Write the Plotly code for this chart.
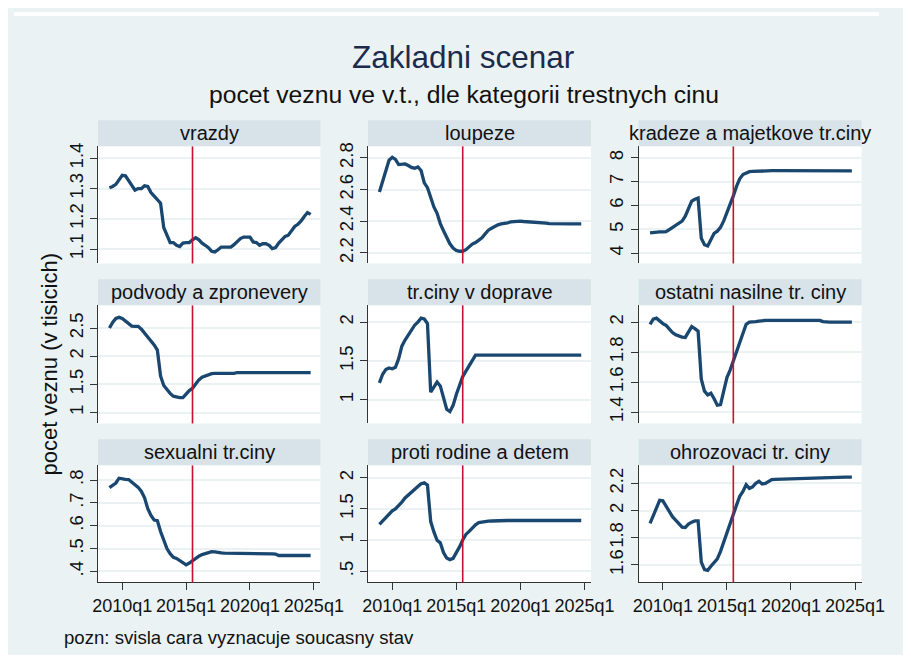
import plotly.graph_objects as go

# Page has an 8px default body margin; the figure fills the rest of the 911x663 window.
PAGE_OFF = 8
FW, FH = 895, 647

# ---------------- data ----------------
quarters = [f"{2009 + i // 4}q{i % 4 + 1}" for i in range(64)]
current_state = "2015q3"
x_tick_labels = ["2010q1", "2015q1", "2020q1", "2025q1"]

categories = ["vrazdy", "loupeze", "kradeze a majetkove tr.ciny",
              "podvody a zpronevery", "tr.ciny v doprave", "ostatni nasilne tr. ciny",
              "sexualni tr.ciny", "proti rodine a detem", "ohrozovaci tr. ciny"]

vrazdy = [1.303, 1.307, 1.314, 1.331, 1.344, 1.342, 1.325, 1.311,
          1.295, 1.300, 1.300, 1.309, 1.307, 1.287, 1.274, 1.263,
          1.252, 1.171, 1.149, 1.122, 1.122, 1.113, 1.109, 1.120,
          1.122, 1.122, 1.131, 1.138, 1.131, 1.120, 1.113, 1.105,
          1.093, 1.091, 1.098, 1.107, 1.107, 1.107, 1.107, 1.115,
          1.124, 1.135, 1.140, 1.140, 1.140, 1.124, 1.122, 1.113,
          1.118, 1.118, 1.113, 1.102, 1.105, 1.120, 1.133, 1.142,
          1.146, 1.160, 1.175, 1.182, 1.193, 1.208, 1.221, 1.215]

loupeze = [2.585, 2.650, 2.720, 2.785, 2.804, 2.790, 2.758, 2.760,
           2.762, 2.752, 2.740, 2.735, 2.743, 2.720, 2.642, 2.612,
           2.545, 2.490, 2.450, 2.385, 2.340, 2.300, 2.257, 2.230,
           2.215, 2.210, 2.210, 2.220, 2.238, 2.255, 2.265, 2.282,
           2.295, 2.320, 2.343, 2.355, 2.368, 2.377, 2.383, 2.385,
           2.390, 2.395, 2.398, 2.400, 2.400, 2.398, 2.397, 2.396,
           2.396, 2.395, 2.395, 2.394, 2.388, 2.385, 2.384, 2.384,
           2.384, 2.384, 2.383, 2.383, 2.383, 2.383, 2.383, 2.383]

kradeze = [4.85, 4.87, 4.88, 4.89, 4.89, 4.90, 4.99, 5.08,
           5.16, 5.23, 5.34, 5.55, 5.90, 6.18, 6.26, 6.31,
           4.62, 4.35, 4.30, 4.60, 4.83, 4.92, 5.08, 5.35,
           5.70, 6.00, 6.40, 6.80, 7.12, 7.30, 7.38, 7.42,
           7.43, 7.44, 7.45, 7.46, 7.46, 7.46, 7.46, 7.46,
           7.46, 7.46, 7.46, 7.46, 7.46, 7.46, 7.46, 7.46,
           7.45, 7.45, 7.45, 7.45, 7.45, 7.45, 7.45, 7.45,
           7.45, 7.45, 7.45, 7.45, 7.45, 7.45, 7.45, 7.45]

podvody = [2.50, 2.60, 2.67, 2.69, 2.67, 2.625, 2.58, 2.535,
           2.53, 2.53, 2.48, 2.41, 2.35, 2.28, 2.20, 2.11,
           1.65, 1.48, 1.40, 1.34, 1.29, 1.27, 1.265, 1.265,
           1.33, 1.39, 1.43, 1.50, 1.58, 1.625, 1.65, 1.67,
           1.69, 1.695, 1.695, 1.695, 1.695, 1.695, 1.695, 1.695,
           1.71, 1.71, 1.71, 1.71, 1.71, 1.71, 1.71, 1.71,
           1.71, 1.71, 1.71, 1.71, 1.71, 1.71, 1.71, 1.71,
           1.71, 1.71, 1.71, 1.71, 1.71, 1.71, 1.71, 1.71]

doprava = [1.22, 1.33, 1.39, 1.41, 1.40, 1.42, 1.53, 1.69,
           1.77, 1.83, 1.89, 1.96, 2.00, 2.05, 2.04, 1.98,
           1.10, 1.17, 1.23, 1.18, 1.02, 0.88, 0.85, 0.93,
           1.07, 1.20, 1.30, 1.37, 1.44, 1.51, 1.575, 1.575,
           1.575, 1.575, 1.575, 1.575, 1.575, 1.575, 1.575, 1.575,
           1.575, 1.575, 1.575, 1.575, 1.575, 1.575, 1.575, 1.575,
           1.575, 1.575, 1.575, 1.575, 1.575, 1.575, 1.575, 1.575,
           1.575, 1.575, 1.575, 1.575, 1.575, 1.575, 1.575, 1.575]

ostatni_nasilne = [1.985, 2.020, 2.026, 2.005, 1.990, 1.978, 1.950, 1.930,
                   1.916, 1.905, 1.900, 1.898, 1.934, 1.970, 1.956, 1.940,
                   1.620, 1.540, 1.515, 1.526, 1.490, 1.446, 1.450, 1.550,
                   1.630, 1.680, 1.740, 1.800, 1.866, 1.935, 1.985, 2.000,
                   2.000, 2.003, 2.007, 2.011, 2.011, 2.011, 2.011, 2.011,
                   2.011, 2.011, 2.011, 2.011, 2.011, 2.011, 2.011, 2.011,
                   2.011, 2.011, 2.011, 2.011, 2.011, 2.011, 2.003, 2.000,
                   2.000, 2.000, 2.000, 2.000, 2.000, 2.000, 2.000, 2.000]

sexualni = [0.767, 0.775, 0.787, 0.808, 0.804, 0.803, 0.802, 0.792,
            0.780, 0.768, 0.750, 0.722, 0.675, 0.645, 0.625, 0.622,
            0.575, 0.533, 0.500, 0.478, 0.462, 0.457, 0.447, 0.435,
            0.429, 0.437, 0.448, 0.458, 0.467, 0.474, 0.479, 0.484,
            0.487, 0.486, 0.482, 0.481, 0.480, 0.480, 0.480, 0.479,
            0.479, 0.478, 0.478, 0.478, 0.478, 0.478, 0.477, 0.477,
            0.477, 0.477, 0.477, 0.477, 0.476, 0.470, 0.470, 0.470,
            0.470, 0.470, 0.470, 0.470, 0.470, 0.470, 0.470, 0.470]

proti_rodine = [1.25, 1.31, 1.365, 1.42, 1.47, 1.50, 1.55, 1.61,
                1.675, 1.725, 1.76, 1.81, 1.86, 1.905, 1.92, 1.88,
                1.30, 1.13, 0.995, 0.955, 0.80, 0.71, 0.686, 0.705,
                0.79, 0.89, 1.00, 1.09, 1.14, 1.20, 1.245, 1.28,
                1.292, 1.30, 1.303, 1.306, 1.31, 1.314, 1.314, 1.314,
                1.314, 1.314, 1.314, 1.314, 1.314, 1.314, 1.314, 1.314,
                1.314, 1.314, 1.314, 1.314, 1.314, 1.314, 1.314, 1.314,
                1.314, 1.314, 1.314, 1.314, 1.314, 1.314, 1.314, 1.314]

ohrozovaci = [1.905, 1.960, 2.030, 2.075, 2.072, 2.030, 1.985, 1.955,
              1.930, 1.905, 1.878, 1.876, 1.900, 1.915, 1.924, 1.924,
              1.620, 1.565, 1.560, 1.590, 1.615, 1.645, 1.700, 1.770,
              1.845, 1.905, 1.975, 2.040, 2.105, 2.140, 2.190, 2.163,
              2.175, 2.200, 2.215, 2.195, 2.200, 2.215, 2.228, 2.230,
              2.231, 2.232, 2.233, 2.234, 2.235, 2.235, 2.236, 2.237,
              2.238, 2.238, 2.239, 2.239, 2.240, 2.241, 2.242, 2.243,
              2.244, 2.244, 2.245, 2.245, 2.246, 2.246, 2.246, 2.246]

series = [vrazdy, loupeze, kradeze, podvody, doprava, ostatni_nasilne,
          sexualni, proti_rodine, ohrozovaci]

y_tick_vals = [[1.1, 1.2, 1.3, 1.4], [2.2, 2.4, 2.6, 2.8], [4, 5, 6, 7, 8],
               [1, 1.5, 2, 2.5], [1, 1.5, 2], [1.4, 1.6, 1.8, 2],
               [0.4, 0.5, 0.6, 0.7, 0.8], [0.5, 1, 1.5, 2], [1.6, 1.8, 2, 2.2]]
y_tick_text = [["1.1", "1.2", "1.3", "1.4"], ["2.2", "2.4", "2.6", "2.8"], ["4", "5", "6", "7", "8"],
               ["1", "1.5", "2", "2.5"], ["1", "1.5", "2"], ["1.4", "1.6", "1.8", "2"],
               [".4", ".5", ".6", ".7", ".8"], [".5", "1", "1.5", "2"], ["1.6", "1.8", "2", "2.2"]]
y_ranges = [[1.053, 1.44], [2.133, 2.874], [3.566, 8.49],
            [0.806, 2.906], [0.698, 2.217], [1.325, 2.1125],
            [0.352, 0.865], [0.319, 2.202], [1.471, 2.334]]

# ---------------- helpers ----------------
def qnum(s):
    y, q = s.split("q")
    return int(y) + (int(q) - 1) / 4

xq = [qnum(q) for q in quarters]
x_tick_vals = [qnum(q) for q in x_tick_labels]
vline_x = qnum(current_state)

def fx(px):  # screen px -> paper
    return (px - PAGE_OFF) / FW

def fy(py):
    return 1 - (py - PAGE_OFF) / FH

FONT = "Liberation Sans, Arial, sans-serif"
BG = "#EAF2F3"
STRIP = "#D7E2E9"
NAVY = "#1A476F"
RED = "#C8102E"

col_px = [(95, 325), (374.3, 605), (654.3, 885)]
row_plot_px = [(143, 261), (303, 422), (464, 582)]
row_strip_px = [(117, 143), (277, 303), (438, 464)]

fig = go.Figure()
shapes = []
annotations = []

for i in range(9):
    r, c = divmod(i, 3)
    n = i + 1
    xa = "x" if n == 1 else f"x{n}"
    ya = "y" if n == 1 else f"y{n}"
    fig.add_trace(go.Scatter(x=xq, y=series[i], mode="lines",
                             line=dict(color=NAVY, width=3.3),
                             xaxis=xa, yaxis=ya, showlegend=False,
                             hoverinfo="x+y"))
    x0, x1 = col_px[c]
    py0, py1 = row_plot_px[r]
    bottom = (r == 2)
    fig.layout[f"xaxis{'' if n == 1 else n}"] = dict(
        domain=[fx(x0), fx(x1)], range=[2008.11, 2025.51], anchor=ya,
        tickvals=x_tick_vals, ticktext=x_tick_labels, tickangle=0,
        showticklabels=bottom, ticks="outside" if bottom else "",
        ticklen=7, tickwidth=1, tickcolor="#333333",
        showline=bottom, linecolor="#333333", linewidth=1,
        showgrid=False, zeroline=False,
        tickfont=dict(family=FONT, size=18, color="#111111"))
    fig.layout[f"yaxis{'' if n == 1 else n}"] = dict(
        domain=[fy(py1), fy(py0)], range=y_ranges[i], anchor=xa,
        tickvals=y_tick_vals[i], ticktext=y_tick_text[i], tickangle=-90,
        ticks="outside", ticklen=7, tickwidth=1, tickcolor="#333333",
        showline=True, linecolor="#333333", linewidth=1,
        showgrid=True, gridcolor=BG, gridwidth=1.6, zeroline=False,
        tickfont=dict(family=FONT, size=18.5, color="#111111"))
    # current-state vertical line
    shapes.append(dict(type="line", xref=xa, yref=f"{ya} domain",
                       x0=vline_x, x1=vline_x, y0=0, y1=1,
                       line=dict(color=RED, width=1.6), layer="above"))
    # strip
    s0, s1 = row_strip_px[r]
    shapes.append(dict(type="rect", xref="paper", yref="paper",
                       x0=fx(x0), x1=fx(x1), y0=fy(s1), y1=fy(s0),
                       fillcolor=STRIP, line=dict(width=0), layer="above"))
    annotations.append(dict(text=categories[i], xref="paper", yref="paper",
                            x=fx((x0 + x1) / 2), y=fy((s0 + s1) / 2),
                            xanchor="center", yanchor="middle", showarrow=False,
                            font=dict(family=FONT, size=20, color="#111111")))

# thin white band at the top (light region starts at screen y=12)
shapes.append(dict(type="rect", xref="paper", yref="paper",
                   x0=0, x1=1, y0=fy(12), y1=1.0,
                   fillcolor="white", line=dict(width=0), layer="above"))

annotations += [
    dict(text="Zakladni scenar", xref="paper", yref="paper", x=fx(473), y=fy(53),
         xanchor="center", yanchor="middle", showarrow=False,
         font=dict(family=FONT, size=31.5, color="#1C2B4C")),
    dict(text="pocet veznu ve v.t., dle kategorii trestnych cinu", xref="paper", yref="paper",
         x=fx(474), y=fy(91), xanchor="center", yanchor="middle", showarrow=False,
         font=dict(family=FONT, size=24.7, color="#111111")),
    dict(text="pocet veznu (v tisicich)", xref="paper", yref="paper", x=fx(45), y=fy(362),
         xanchor="center", yanchor="middle", showarrow=False, textangle=-90,
         font=dict(family=FONT, size=22, color="#111111")),
    dict(text="pozn: svisla cara vyznacuje soucasny stav", xref="paper", yref="paper",
         x=fx(58), y=fy(637), xanchor="left", yanchor="middle", showarrow=False,
         font=dict(family=FONT, size=18.6, color="#111111")),
]

fig.update_layout(width=FW, height=FH, margin=dict(l=0, r=0, t=0, b=0),
                  paper_bgcolor=BG, plot_bgcolor="white",
                  shapes=shapes, annotations=annotations, showlegend=False)

fig.write_html("out.html", config={"displayModeBar": False})
